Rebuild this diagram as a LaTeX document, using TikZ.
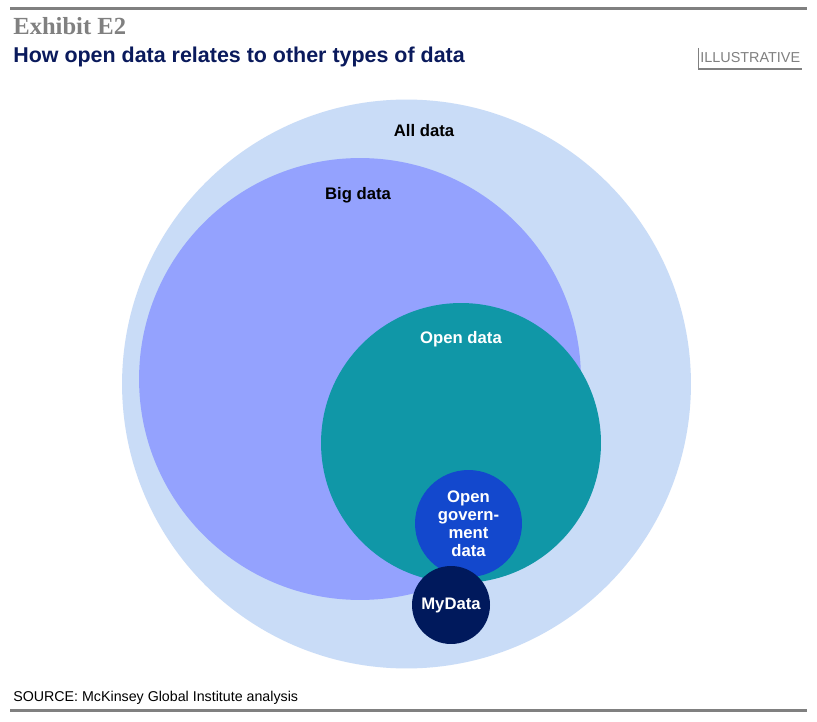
\documentclass[tikz,border=0pt]{standalone}
\usepackage{fontspec}
\setmainfont{Liberation Sans}
\newfontfamily\exhibitfont{Liberation Serif}
\usepackage{xcolor}
\usetikzlibrary{positioning}

\definecolor{alldata}{HTML}{C9DCF7}
\definecolor{bigdata}{HTML}{94A2FE}
\definecolor{opendata}{HTML}{1097A7}
\definecolor{govdata}{HTML}{1348CD}
\definecolor{mydata}{HTML}{00195C}
\definecolor{titleblue}{HTML}{0A1A5C}
\definecolor{rulegray}{HTML}{808080}

\begin{document}
\begin{tikzpicture}[
    x=0.02cm, y=-0.02cm,
    set/.style={circle, inner sep=0pt, outer sep=0pt},
    setlabel/.style={font=\fontsize{9.5}{10.5}\selectfont\bfseries, inner sep=0pt},
    inlabel/.style={set, text=white, align=center, font=\fontsize{9.5}{10.2}\selectfont\bfseries},
    rule/.style={rulegray, line width=1.7pt},
]

\useasboundingbox[fill=white] (0,0) rectangle (817,722);

% Header
\draw[rule] (10,9) coordinate (topl) -- (807,9) coordinate (topr);
\node[anchor=base west, inner sep=0pt, text=rulegray, font=\exhibitfont\fontsize{14}{14}\selectfont\bfseries] (exhibit) at (13,35) {Exhibit E2};
\node[anchor=base west, inner sep=0pt, text=titleblue, font=\fontsize{12.2}{12.2}\selectfont\bfseries] (title) at (13,63) {How open data relates to other types of data};
\node[anchor=base west, inner sep=0pt, text=rulegray, font=\fontsize{8.2}{8.2}\selectfont] (illus) at (700,63) {ILLUSTRATIVE};
\coordinate (illtop) at (698,48);
\coordinate (illbot) at (698,69);
\coordinate (illend) at (802,69);
\draw[rulegray, line width=0.5pt] (illtop) -- (illbot);
\draw[rulegray, line width=1.7pt] (illbot) -- (illend);

% Sets
\node[set, fill=alldata, minimum size=11.38cm] (all) at (406.5,384) {};
\node[set, fill=bigdata, minimum size=8.84cm] (big) at (360,379) {};
\node[set, fill=opendata, minimum size=5.6cm] (open) at (461,443) {};
\node[inlabel, fill=govdata, minimum size=2.14cm] (gov) at (468.5,523.5) {Open\\govern-\\ment\\data};
\node[inlabel, fill=mydata, minimum size=1.56cm] (my) at (451,605) {MyData};

% Labels
\node[setlabel] (alllbl) at (424,131) {All data};
\node[setlabel] (biglbl) at (358,195) {Big data};
\node[setlabel, text=white] (openlbl) at (461,339) {Open data};

% Footer
\node[anchor=base west, inner sep=0pt, font=\fontsize{8.1}{8.1}\selectfont] (source) at (13,701) {SOURCE: McKinsey Global Institute analysis};
\draw[rule] (10,710) coordinate (botl) -- (807,710) coordinate (botr);

\end{tikzpicture}
\end{document}
